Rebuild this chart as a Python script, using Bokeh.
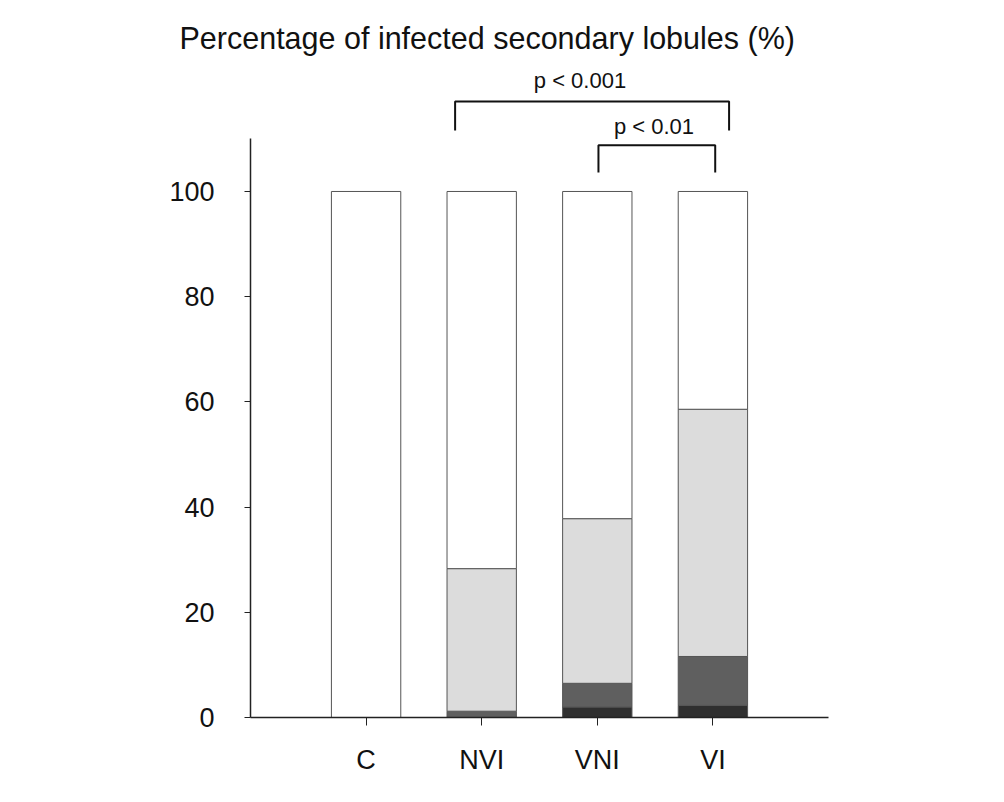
from bokeh.plotting import figure
from bokeh.models import ColumnDataSource, FixedTicker, Range1d
from bokeh.core.properties import value
from bokeh.embed import file_html
from bokeh.resources import INLINE

# ---- data ----
categories = ["C", "NVI", "VNI", "VI"]
severe = [0.0, 0.0, 2.0, 2.3]
moderate = [0.0, 1.2, 4.5, 9.3]
mild = [0.0, 27.1, 31.3, 47.0]
uninfected = [100 - (a + b + c) for a, b, c in zip(severe, moderate, mild)]
y_ticks = [0, 20, 40, 60, 80, 100]
title_text = "Percentage of infected secondary lobules (%)"
sig_labels = ["p < 0.001", "p < 0.01"]

FONT = "Liberation Sans"
xpos = [i + 1 for i in range(len(categories))]

p = figure(width=988, height=786, output_backend="svg", toolbar_location=None,
           x_range=Range1d(0, 5), y_range=Range1d(0, 124.9),
           min_border_left=250, min_border_right=160, min_border_top=60,
           min_border_bottom=69)
p.outline_line_color = None
p.xgrid.visible = False
p.ygrid.visible = False
p.background_fill_color = "white"
p.border_fill_color = "white"

p.title.text = title_text
p.title.text_font = FONT
p.title.text_font_size = "30.5px"
p.title.text_font_style = "normal"
p.title.text_color = "#111111"
p.title.align = "left"
p.title.offset = -71
p.title.standoff = 12

src = ColumnDataSource(dict(x=xpos, severe=severe, moderate=moderate,
                            mild=mild, uninfected=uninfected))
p.vbar_stack(["severe", "moderate", "mild", "uninfected"], x="x", width=0.6,
             source=src,
             color=["#2f2f2f", "#5f5f5f", "#dcdcdc", "#ffffff"],
             line_color="#555555", line_width=1)

# axes
p.yaxis.ticker = FixedTicker(ticks=y_ticks)
p.yaxis.bounds = (0, 110)
p.yaxis.minor_tick_line_color = None
p.yaxis.major_tick_out = 6
p.yaxis.major_tick_in = 0
p.yaxis.major_label_text_font = FONT
p.yaxis.major_label_text_font_size = "27px"
p.yaxis.major_label_text_color = "#111111"
p.yaxis.major_label_standoff = 30
p.yaxis.axis_line_width = 1.5
p.yaxis.axis_line_color = "#222222"
p.yaxis.major_tick_line_color = "#222222"

p.xaxis.ticker = FixedTicker(ticks=xpos)
p.xaxis.major_label_overrides = {x: c for x, c in zip(xpos, categories)}
p.xaxis.minor_tick_line_color = None
p.xaxis.major_tick_out = 8
p.xaxis.major_tick_in = 0
p.xaxis.major_label_text_font = FONT
p.xaxis.major_label_text_font_size = "27px"
p.xaxis.major_label_text_color = "#111111"
p.xaxis.major_label_standoff = 19
p.xaxis.axis_line_width = 1.5
p.xaxis.axis_line_color = "#222222"
p.xaxis.major_tick_line_color = "#222222"

# significance brackets
br_x0 = [1.77, 3.01]
br_x1 = [4.14, 4.02]
br_top = [117.1, 108.8]
br_bot = [111.6, 103.6]
lab_x = [2.85, 3.49]
lab_y = [121.1, 112.4]
for x0, x1, t, b in zip(br_x0, br_x1, br_top, br_bot):
    p.line([x0, x0, x1, x1], [b, t, t, b], line_color="#111111", line_width=2)
p.text(x=lab_x, y=lab_y, text=sig_labels, text_font=value(FONT),
       text_font_size="22px", text_align="center", text_baseline="middle",
       text_color="#111111")

open("out.html", "w").write(file_html(p, INLINE))
